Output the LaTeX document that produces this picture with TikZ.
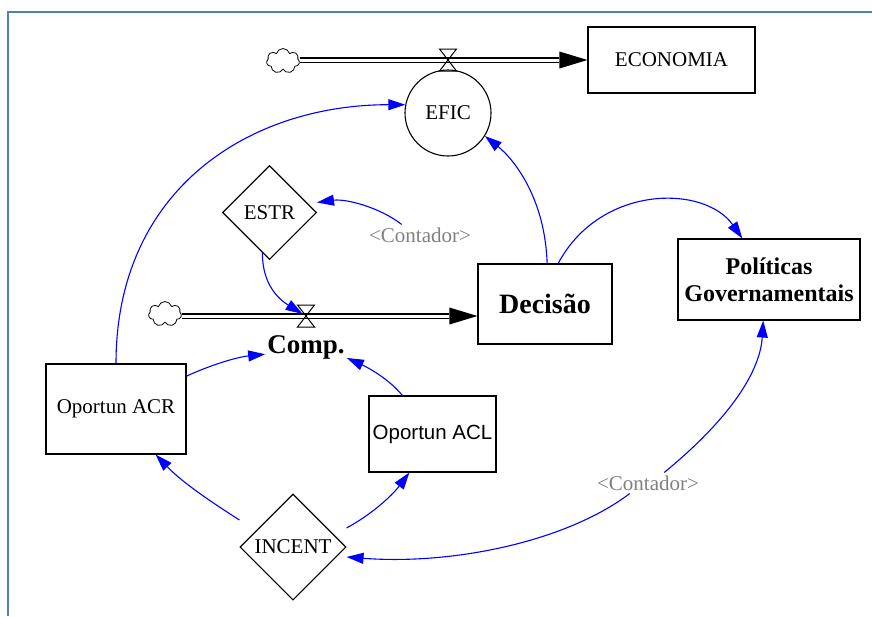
\documentclass[tikz,border=0pt]{standalone}
\usepackage{fontspec}
\setmainfont{Liberation Serif}
\newfontfamily\arialfont{Liberation Sans}
\usetikzlibrary{arrows.meta,positioning,shapes.geometric,shapes.symbols,calc}
\definecolor{frameblue}{RGB}{79,129,189}

\begin{document}
\begin{tikzpicture}[x=1pt,y=-1pt,
  box/.style={draw,line width=1.1pt,inner sep=2pt,align=center,font=\fontsize{21}{25}\selectfont},
  aux/.style={draw,circle,line width=1.1pt,minimum size=86pt,inner sep=0pt,font=\fontsize{21}{25}\selectfont},
  lookup/.style={draw,diamond,line width=1.1pt,inner sep=0pt,font=\fontsize{21}{25}\selectfont},
  lab/.style={text=gray,inner sep=3pt,font=\fontsize{21}{25}\selectfont},
  edge/.style={blue,line width=1.1pt,-{Triangle[length=17pt,width=11pt]}},
  pipe/.style={line width=6pt,-{Triangle[length=28pt,width=17pt,line width=0pt]}},
  pipein/.style={white,line width=3pt,shorten >=28pt},
  valve/.style={line width=1pt,line join=miter},
  cloudy/.style={draw,cloud,cloud puffs=7,aspect=1.2,minimum width=33pt,minimum height=25pt,inner sep=0pt,line width=0.8pt}]
\useasboundingbox (0,0) rectangle (872,616);
\draw[frameblue,line width=2.2pt] (8,616) -- (8,12) -- (872,12);
% stocks, auxiliaries and lookups
\node[box,minimum width=167pt,minimum height=66pt] (econ) at (671.5,60) {ECONOMIA};
\node[aux] (efic) at (448,113) {EFIC};
\node[lookup,minimum width=94pt,minimum height=94pt] (estr) at (269.5,212.5) {ESTR};
\node[box,minimum width=134pt,minimum height=80pt,font=\bfseries\fontsize{28}{31}\selectfont] (dec) at (545,304) {Decisão};
\node[box,minimum width=182pt,minimum height=81pt,font=\bfseries\fontsize{24}{27}\selectfont] (pol) at (769,279.5) {Políticas\\Governamentais};
\node[box,minimum width=140pt,minimum height=90pt] (acr) at (116,409) {Oportun ACR};
\node[box,minimum width=127pt,minimum height=76pt,font=\arialfont\fontsize{20.5}{24}\selectfont] (acl) at (432.5,434) {Oportun ACL};
\node[lookup,minimum width=106pt,minimum height=106pt] (incent) at (293,547) {INCENT};
\node[font=\bfseries\fontsize{27}{30}\selectfont,inner sep=2pt] (comp) at (306,347) {Comp.};
\node[lab] (ctra) at (420,235) {<Contador>};
\node[lab] (ctrb) at (648,483) {<Contador>};
% flows
\node[cloudy] (clouda) at (283,61) {};
\node[cloudy] (cloudb) at (165,314) {};
\coordinate (valvea) at (448,60);
\coordinate (valveb) at (306,316);
\draw[pipe] (clouda.east |- valvea) -- (econ.west);
\draw[pipein] (clouda.east |- valvea) -- (econ.west);
\draw[pipe] (cloudb.east |- valveb) -- (valveb -| dec.west);
\draw[pipein] (cloudb.east |- valveb) -- (valveb -| dec.west);
\draw[valve] (valvea) +(-8.5,-11) -- +(8.5,-11) -- +(-8.5,11) -- +(8.5,11) -- cycle;
\draw[valve] (valveb) +(-8.5,-11) -- +(8.5,-11) -- +(-8.5,11) -- +(8.5,11) -- cycle;
% links
\draw[edge] (acr.north) .. controls +(0,-174) and +(-156,0) .. (efic.169);
\draw[edge] (dec.87) .. controls +(-2,-64) and +(30,24) .. (efic.-32);
\draw[edge] (dec.72) .. controls +(42,-79) and +(-38,-54) .. (pol.123);
\draw[edge] (ctra.150) .. controls +(-22,-17) and +(29,-4) .. ($(estr.east)+(0,-10)$);
\draw[edge,shorten >=4pt] (estr.-100) .. controls +(0,33) and +(-26,-16) .. (valveb);
\draw[edge] (acr.25) .. controls +(24,-11) and +(-29,3) .. (comp.190);
\draw[edge] (acl.128) .. controls +(-13,-16) and +(22,10) .. (comp.-15);
\draw[edge] ($(incent.west)+(0,-27)$) .. controls +(-36,-23) and +(25,26) .. (acr.-49);
\draw[edge] ($(incent.east)+(0,-19)$) .. controls +(24,-13) and +(-18,24) .. (acl.-121);
\draw[edge] (ctrb.33) .. controls +(67,-55) and +(-3,50) .. (pol.-98);
\draw[edge] (ctrb.-150) .. controls +(-65,49) and +(104,8) .. ($(incent.east)+(0,10)$);
\end{tikzpicture}
\end{document}
